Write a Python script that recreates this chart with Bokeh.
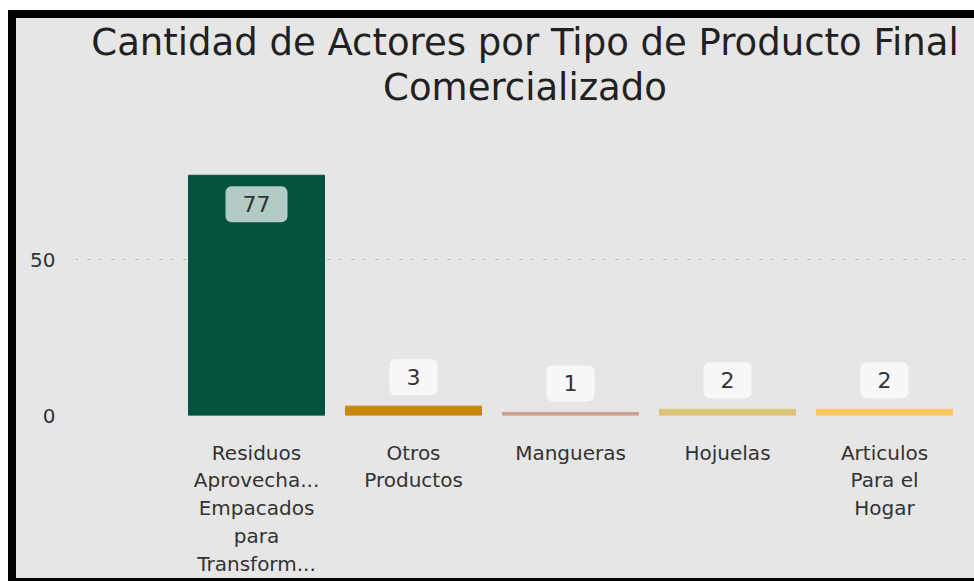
from bokeh.plotting import figure
from bokeh.models import Range1d, FixedTicker, ColumnDataSource, Title
from bokeh.core.properties import value
from bokeh.embed import file_html
from bokeh.resources import INLINE

# ---- data ----
title_lines = ["Cantidad de Actores por Tipo de Producto Final", "Comercializado"]
categories = [
    "Residuos Aprovechables Empacados para Transformación",
    "Otros Productos",
    "Mangueras",
    "Hojuelas",
    "Articulos Para el Hogar",
]
tick_labels = [
    "Residuos\nAprovecha...\nEmpacados\npara\nTransform...",
    "Otros\nProductos",
    "Mangueras",
    "Hojuelas",
    "Articulos\nPara el\nHogar",
]
counts = [77, 3, 1, 2, 2]
colors = ["#02533d", "#c8860a", "#c8a08c", "#dcc378", "#fac85f"]
y_ticks = [0, 50]

positions = list(range(len(categories)))
yoff = [29 if c > 20 else -29 for c in counts]
src = ColumnDataSource(dict(
    x=positions, top=counts, color=colors,
    label=[str(c) for c in counts], yoff=yoff, cat=categories,
))

FONT = value("DejaVu Sans")
BG = "#e6e6e6"

p = figure(
    width=958, height=560, title=None,
    output_backend="svg", toolbar_location=None,
    x_range=Range1d(-1.153, 4.573), y_range=Range1d(0, 98.4),
    min_border_left=59, min_border_right=0, min_border_top=90, min_border_bottom=161,
    background_fill_color=None, border_fill_color=None,
    outline_line_color=None,
)
p.styles = {
    "margin-left": "16px",
    "margin-top": "18px",
    "outline": "8px solid black",
    "background-color": BG,
}

# title: second line nearest the plot, first line above it
for txt in (title_lines[1], title_lines[0]):
    p.add_layout(Title(text=txt, align="center", text_font="DejaVu Sans",
                       text_font_size="37px", text_font_style="normal",
                       text_color="#212121", standoff=0), "above")

p.vbar(x="x", top="top", width=0.866, bottom=0, fill_color="color",
       line_color="color", source=src)

p.text(x="x", y="top", text="label", source=src, y_offset="yoff",
       text_align="center", text_baseline="middle",
       text_font=FONT, text_font_size="22px", text_color="#333333",
       background_fill_color="white", background_fill_alpha=0.7,
       border_radius=6, padding=(17, 17, 10, 10))

# axes
p.xaxis.ticker = FixedTicker(ticks=positions)
p.xaxis.major_label_overrides = {i: t for i, t in enumerate(tick_labels)}
p.yaxis.ticker = FixedTicker(ticks=y_ticks)
for ax in (p.xaxis[0], p.yaxis[0]):
    ax.axis_line_color = None
    ax.major_tick_line_color = None
    ax.minor_tick_line_color = None
    ax.major_tick_out = 0
    ax.major_tick_in = 0
    ax.major_label_text_font = "DejaVu Sans"
    ax.major_label_text_font_size = "20px"
    ax.major_label_text_color = "#333333"
p.xaxis.major_label_standoff = 25
p.xaxis.major_label_text_line_height = 1.16
p.yaxis.major_label_standoff = 20

p.xgrid.grid_line_color = None
p.ygrid.ticker = FixedTicker(ticks=y_ticks)
p.ygrid.grid_line_color = "#a8a8a8"
p.ygrid.grid_line_dash = "2 10"
p.ygrid.grid_line_width = 1.2

open("out.html", "w").write(file_html(p, INLINE))
